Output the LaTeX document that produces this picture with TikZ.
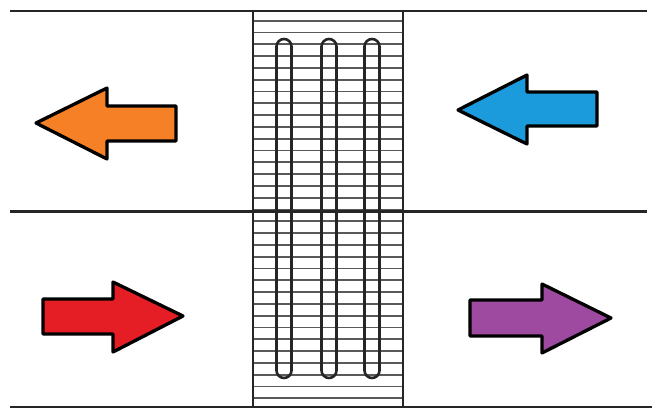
\documentclass[tikz,border=0pt]{standalone}
\usepackage{tikz}
\usetikzlibrary{calc}
\definecolor{FlowOrange}{RGB}{245,128,38}
\definecolor{FlowBlue}{RGB}{27,155,220}
\definecolor{FlowRed}{RGB}{228,30,36}
\definecolor{FlowPurple}{RGB}{158,74,160}
\begin{document}
\begin{tikzpicture}[x=1pt, y=-1pt,
    wall/.style={line width=2.2pt, black!85},
    fin/.style={line width=1.8pt, black!65},
    tube/.style={line width=2.6pt, black!85, rounded corners=7.5pt},
    flowarrow/.style={draw=black, line width=3.3pt, line join=round}]
      \useasboundingbox (0,0) rectangle (652,410);

      % duct walls
      \draw[wall] (10,11) -- (647,11);
      \draw[wall] (10,211.5) -- (647,211.5);
      \draw[wall] (10,407) -- (652,407);

      % fins of the exchanger core
      \foreach \y in {0,...,32}
        \draw[fin] (253,20.7+11.8*\y) -- (403,20.7+11.8*\y);

      % core frame
      \draw[wall] (253,11) -- (253,407);
      \draw[wall] (403,11) -- (403,407);

      % hairpin tubes
      \foreach \x in {284,329,372}
        \draw[tube] (\x-7.5,378) rectangle (\x+7.5,39);

      % flow arrows, upper duct (to the left)
      \draw[flowarrow, fill=FlowOrange] (176,106) -- (107,106) -- (107,88)
            -- (36,123) -- (107,159) -- (107,141) -- (176,141) -- cycle;
      \draw[flowarrow, fill=FlowBlue] (597,92) -- (527,92) -- (527,75)
            -- (458,110) -- (527,144) -- (527,126) -- (597,126) -- cycle;

      % flow arrows, lower duct (to the right)
      \draw[flowarrow, fill=FlowRed] (43,299) -- (113,299) -- (113,282)
            -- (183,316) -- (113,352) -- (113,334) -- (43,334) -- cycle;
      \draw[flowarrow, fill=FlowPurple] (470,300) -- (542,300) -- (542,284)
            -- (611,318) -- (542,353) -- (542,336) -- (470,336) -- cycle;
\end{tikzpicture}
\end{document}
